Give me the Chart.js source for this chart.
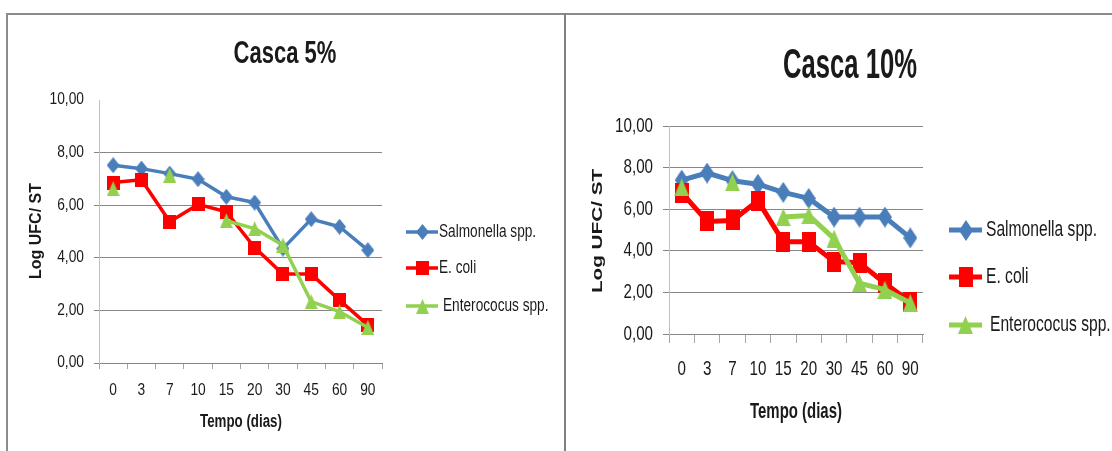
<!DOCTYPE html>
<html>
<head>
<meta charset="utf-8">
<script src="https://cdn.jsdelivr.net/npm/chart.js@4.4.1/dist/chart.umd.min.js"></script>
<style>
  html, body { margin: 0; padding: 0; background: #ffffff; }
  body { width: 1112px; height: 451px; position: relative; overflow: hidden; }
  .rule { position: absolute; background: #8c8c8c; }
  .panel { position: absolute; top: 0; height: 451px; }
</style>
</head>
<body>
<div class="rule" style="left:6px;top:13px;width:1106px;height:2px"></div>
<div class="rule" style="left:6px;top:13px;width:2px;height:438px"></div>
<div class="rule" style="left:564px;top:13px;width:2px;height:438px;background:#808080"></div>
<div class="panel" style="left:0;width:564px"><canvas id="casca5"></canvas></div>
<div class="panel" style="left:566px;width:546px"><canvas id="casca10"></canvas></div>

<script>
// Sampling days (x categories) and y-axis ticks
const days = ['0', '3', '7', '10', '15', '20', '30', '45', '60', '90'];
const yTicks = [0, 2, 4, 6, 8, 10];
const seriesNames = ['Salmonella spp.', 'E. coli', 'Enterococus spp.'];
const seriesColors = ['#4a7ebb', '#ff0000', '#92d050'];

// Casca 5% – log UFC/ST
const salmonella5 = [7.52, 7.39, 7.20, 6.99, 6.32, 6.10, 4.35, 5.47, 5.18, 4.29];
const ecoli5      = [6.86, 6.97, 5.37, 6.03, 5.75, 4.39, 3.38, 3.38, 2.39, 1.44];
const entero5     = [6.63, null, 7.14, null, 5.41, 5.11, 4.48, 2.33, 1.95, 1.35];

// Casca 10% – log UFC/ST
const salmonella10 = [7.40, 7.74, 7.37, 7.20, 6.81, 6.52, 5.62, 5.62, 5.62, 4.62];
const ecoli10      = [6.80, 5.41, 5.46, 6.41, 4.43, 4.43, 3.48, 3.42, 2.44, 1.54];
const entero10     = [7.05, null, 7.29, null, 5.62, 5.70, 4.59, 2.44, 2.13, 1.49];

const FAMILY = "'Liberation Sans', Arial, sans-serif";
const INK = '#1a1a1a';

// Marker bitmaps (diamond / square / triangle) with independent width and height
function marker(shape, w, h, color) {
  const c = document.createElement('canvas');
  c.width = w; c.height = h;
  const g = c.getContext('2d');
  g.fillStyle = color;
  g.beginPath();
  if (shape === 'diamond') {
    g.moveTo(w / 2, 0); g.lineTo(w, h / 2); g.lineTo(w / 2, h); g.lineTo(0, h / 2);
  } else if (shape === 'square') {
    g.rect(0, 0, w, h);
  } else {
    g.moveTo(w / 2, 0); g.lineTo(w, h); g.lineTo(0, h);
  }
  g.closePath();
  g.fill();
  return c;
}

// Canvas text is squeezed horizontally around its anchor (alignment is preserved);
// ctx._sx holds the current squeeze factor.
const condensedText = {
  id: 'condensedText',
  beforeDraw(chart, args, o) {
    const ctx = chart.ctx;
    if (!ctx._rawFillText) {
      const raw = ctx.fillText;
      ctx._rawFillText = function (text, x, y) { raw.call(ctx, text, x, y); };
      ctx.fillText = function (text, x, y) {
        ctx.save();
        ctx.translate(x, y);
        ctx.scale(ctx._sx || 1, 1);
        raw.call(ctx, text, 0, 0);
        ctx.restore();
      };
    }
    ctx._sx = o.sx;
  }
};

// Titles, axis titles and the line+marker legend drawn on top of the chart
const panelText = {
  id: 'panelText',
  afterDraw(chart, args, o) {
    const ctx = chart.ctx;
    ctx.save();
    ctx.fillStyle = INK;
    ctx.textAlign = 'center';
    ctx.textBaseline = 'middle';

    ctx._sx = o.title.sx;
    ctx.font = o.title.font;
    ctx.fillText(o.title.text, o.title.x, o.title.y);

    ctx._sx = o.xTitle.sx;
    ctx.font = o.xTitle.font;
    ctx.fillText('Tempo (dias)', o.xTitle.x, o.xTitle.y);

    ctx.save();
    ctx.translate(o.yTitle.x, o.yTitle.y);
    ctx.scale(1, o.yTitle.stretch);
    ctx.rotate(-Math.PI / 2);
    ctx.font = o.yTitle.font;
    ctx._rawFillText('Log UFC/ ST', 0, 0);
    ctx.restore();

    ctx.textAlign = 'left';
    ctx._sx = o.legend.sx;
    ctx.font = o.legend.font;
    chart.data.datasets.forEach((ds, i) => {
      const y = o.legend.y[i];
      ctx.strokeStyle = ds.borderColor;
      ctx.lineWidth = ds.borderWidth;
      ctx.beginPath();
      ctx.moveTo(o.legend.x0, y);
      ctx.lineTo(o.legend.x1, y);
      ctx.stroke();
      const m = ds.pointStyle;
      ctx.drawImage(m, Math.round((o.legend.x0 + o.legend.x1) / 2 - m.width / 2), Math.round(y - m.height / 2));
      ctx.fillStyle = INK;
      ctx.fillText(ds.label, o.legend.textX[i], y);
    });
    ctx.restore();
    ctx._sx = 1;
  }
};

function buildChart(id, series, cfg) {
  const shapes = ['diamond', 'square', 'triangle'];
  const datasets = series.map((values, i) => ({
    label: seriesNames[i],
    data: values,
    borderColor: seriesColors[i],
    backgroundColor: seriesColors[i],
    borderWidth: cfg.lineWidth,
    borderJoinStyle: 'round',
    pointStyle: marker(shapes[i], cfg.markers[i][0], cfg.markers[i][1], seriesColors[i]),
    pointRadius: 6,
    pointBorderWidth: 0,
    spanGaps: false,
    tension: 0,
    order: 3 - i
  }));

  return new Chart(document.getElementById(id), {
    type: 'line',
    data: { labels: days, datasets },
    options: {
      responsive: true,
      maintainAspectRatio: false,
      animation: false,
      events: [],
      layout: { padding: cfg.padding },
      plugins: {
        legend: { display: false },
        tooltip: { enabled: false },
        title: { display: false },
        condensedText: { sx: cfg.tickSx },
        panelText: cfg.text
      },
      scales: {
        x: {
          type: 'category',
          offset: true,
          grid: {
            offset: true,
            drawOnChartArea: false,
            drawTicks: true,
            tickLength: cfg.xTickLength,
            color: '#a6a6a6'
          },
          border: { color: '#868686', width: 1 },
          ticks: {
            padding: cfg.xTickPadding,
            color: INK,
            font: { family: FAMILY, size: cfg.tickSize },
            maxRotation: 0,
            autoSkip: false
          },
          afterFit: s => { s.height = 50; }
        },
        y: {
          min: 0,
          max: 10,
          afterBuildTicks: s => { s.ticks = yTicks.map(v => ({ value: v })); },
          ticks: {
            padding: cfg.yTickPadding,
            color: INK,
            font: { family: FAMILY, size: cfg.tickSize },
            callback: v => v.toFixed(2).replace('.', ',')
          },
          grid: {
            color: c => (c.tick && c.tick.value === 10 && !cfg.topGrid) ? 'rgba(0,0,0,0)' : '#868686',
            lineWidth: 1,
            tickLength: cfg.yTickLength
          },
          border: { color: '#c0c0c0', width: 1 },
          afterFit: s => { s.width = 60; }
        }
      }
    },
    plugins: [condensedText, panelText]
  });
}

buildChart('casca5', [salmonella5, ecoli5, entero5], {
  padding: { left: 39, right: 182, top: 100, bottom: 38 },
  lineWidth: 3.5,
  markers: [[13, 16], [13, 14], [13, 15]],
  tickSize: 16,
  tickSx: 0.86,
  xTickLength: 6,
  xTickPadding: 12,
  yTickLength: 5,
  yTickPadding: 10,
  topGrid: false,
  text: {
    title:  { text: 'Casca 5%', font: "bold 31px " + FAMILY, sx: 0.71, x: 285, y: 54 },
    xTitle: { font: "bold 18px " + FAMILY, sx: 0.74, x: 241, y: 422 },
    yTitle: { font: "bold 16px " + FAMILY, stretch: 1.0, x: 37, y: 231 },
    legend: { font: "17.5px " + FAMILY, sx: 0.78, x0: 406, x1: 438,
              y: [232, 268, 306], textX: [439, 439, 443] }
  }
});

buildChart('casca10', [salmonella10, ecoli10, entero10], {
  padding: { left: 43, right: 189, top: 126, bottom: 67 },
  lineWidth: 5,
  markers: [[14, 21], [14, 20], [15, 18]],
  tickSize: 20.5,
  tickSx: 0.74,
  xTickLength: 9,
  xTickPadding: 14,
  yTickLength: 6,
  yTickPadding: 10,
  topGrid: true,
  text: {
    title:  { text: 'Casca 10%', font: "bold 42px " + FAMILY, sx: 0.61, x: 284, y: 66 },
    xTitle: { font: "bold 22px " + FAMILY, sx: 0.68, x: 230, y: 412 },
    yTitle: { font: "bold 15px " + FAMILY, stretch: 1.38, x: 32, y: 231 },
    legend: { font: "22px " + FAMILY, sx: 0.71, x0: 383, x1: 416,
              y: [230, 277, 325], textX: [420, 420, 424] }
  }
});
</script>
</body>
</html>
